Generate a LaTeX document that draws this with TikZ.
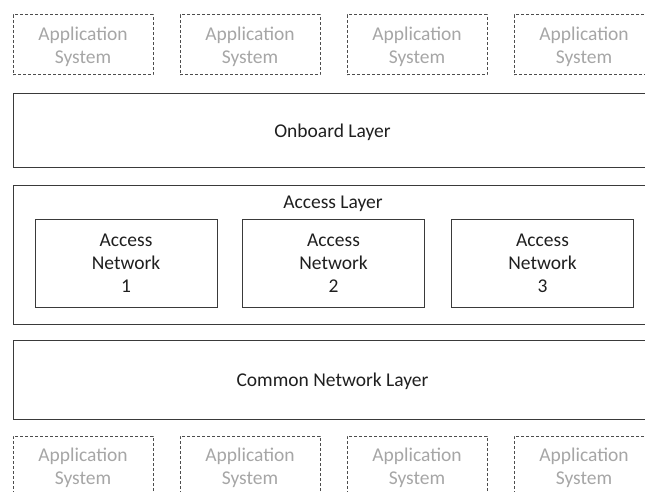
\documentclass[tikz,border=0pt]{standalone}
\usepackage{fontspec}
\setmainfont{Carlito}
\usepackage{xcolor}
\usetikzlibrary{positioning}

\definecolor{appgray}{HTML}{A6A6A6}
\definecolor{dashgray}{HTML}{4D4D4D}
\definecolor{layergray}{HTML}{3A3A3A}
\definecolor{textdark}{HTML}{1F1F1F}

\begin{document}
\begin{tikzpicture}[x=1pt, y=-1pt,
  appbox/.style={draw=dashgray, dash pattern=on 3pt off 2pt, line width=1pt,
    minimum width=140pt, minimum height=60pt, inner sep=0pt, align=center,
    text depth=0pt, text=appgray, font=\fontsize{19.5}{23}\selectfont},
  layer/.style={draw=layergray, line width=1pt, minimum width=639pt,
    inner sep=0pt, align=center, text depth=0pt, text=textdark,
    font=\fontsize{19.5}{23}\selectfont},
  netbox/.style={draw=layergray, line width=1pt, minimum width=182pt,
    minimum height=88pt, inner sep=0pt, align=center, text=textdark,
    font=\fontsize{19.5}{23}\selectfont},
  caption/.style={text=textdark, inner sep=0pt, text depth=0pt,
    font=\fontsize{19.5}{23}\selectfont}
]
\clip (0,0) rectangle (645,492);

% application systems above
\node[appbox] (apptop1) at (83,45)  {Application\\System};
\node[appbox] (apptop2) at (250,45) {Application\\System};
\node[appbox] (apptop3) at (417,45) {Application\\System};
\node[appbox] (apptop4) at (584,45) {Application\\System};

% layers
\node[layer, minimum height=73pt] (onboard) at (332.5,130.5) {Onboard Layer};
\node[layer, minimum height=139pt] (access) at (332.5,254.5) {};
\node[caption] (accesstitle) at (333,202) {Access Layer};
\node[netbox] (net1) at (126,263)   {Access\\Network\\1};
\node[netbox] (net2) at (333.5,263) {Access\\Network\\2};
\node[netbox] (net3) at (542.5,263) {Access\\Network\\3};
\node[layer, minimum height=79pt] (common) at (332.5,379.5) {Common Network Layer};

% application systems below
\node[appbox] (appbot1) at (83,466)  {Application\\System};
\node[appbox] (appbot2) at (250,466) {Application\\System};
\node[appbox] (appbot3) at (417,466) {Application\\System};
\node[appbox] (appbot4) at (584,466) {Application\\System};
\end{tikzpicture}
\end{document}
